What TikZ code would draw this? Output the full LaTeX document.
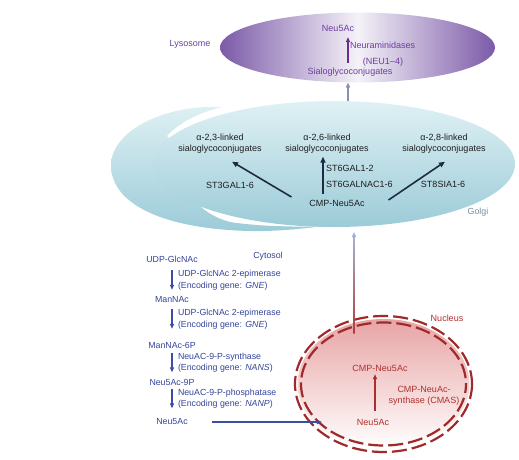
\documentclass[tikz,border=0pt]{standalone}
\usepackage{fontspec}
\setmainfont{Liberation Sans}
\usetikzlibrary{shapes.geometric,arrows.meta,calc}
\definecolor{cytblue}{HTML}{33449A}
\definecolor{cytarrowc}{HTML}{3A4EA6}
\definecolor{golgitext}{HTML}{1E1E1E}
\definecolor{golarrowc}{HTML}{1F2A44}
\definecolor{golgilab}{HTML}{6F8FA0}
\definecolor{lysotext}{HTML}{6B3FA0}
\definecolor{lysarrowc}{HTML}{6A2C91}
\definecolor{nuctext}{HTML}{B0302E}
\definecolor{nucarrowc}{HTML}{A83030}
\definecolor{ringc}{HTML}{9E2A2B}
\definecolor{lysedge}{HTML}{7B5AA8}
\definecolor{lysmid}{HTML}{F5F2F8}
\definecolor{goltop}{HTML}{DFF1F4}
\definecolor{golbot}{HTML}{9CCBD8}
\definecolor{nucpink}{HTML}{E8A4A4}
\definecolor{linetop}{HTML}{A3B2CC}
\definecolor{linebot}{HTML}{B03A3A}
\definecolor{grayarrowc}{HTML}{8A90B2}
\tikzset{
  txt/.style={inner sep=0pt, outer sep=0pt, font=\fontsize{8.8}{11}\selectfont},
  cyt/.style={txt, text=cytblue},
  cytenz/.style={cyt, anchor=west, align=left, font=\fontsize{8.8}{11.5}\selectfont},
  gol/.style={txt, text=golgitext, font=\fontsize{9}{11}\selectfont},
  gollink/.style={gol, align=center},
  lys/.style={txt, text=lysotext, font=\fontsize{9}{11}\selectfont},
  nuc/.style={txt, text=nuctext, font=\fontsize{9}{11}\selectfont},
  cytarrow/.style={draw=cytarrowc, line width=1.3pt, -{Triangle[length=5pt,width=4pt]}},
  golarrow/.style={draw=golarrowc, line width=1.6pt, -{Triangle[length=6pt,width=5pt]}},
  lysarrow/.style={draw=lysarrowc, line width=1.5pt, -{Triangle[length=5pt,width=4pt]}},
  nucarrow/.style={draw=nucarrowc, line width=1.2pt, -{Triangle[length=5pt,width=4pt]}},
  ring/.style={draw=ringc, line width=2.2pt, dash pattern=on 15pt off 5pt},
  blob/.style={ellipse, inner sep=0pt, outer sep=0pt},
}
\begin{document}
\begin{tikzpicture}[x=1pt,y=-1pt]
\useasboundingbox (0,0) rectangle (519,460);
% ---------- Golgi ----------
\shade[top color=goltop, bottom color=golbot]
  (222,107) .. controls (170,104) and (112,128) .. (111,165)
  .. controls (111,205) and (165,229) .. (250,231)
  .. controls (275,231.5) and (300,229) .. (320,226.5)
  .. controls (290,227) and (255,226) .. (230,222)
  .. controls (215,218) and (205,211) .. (199,205)
  .. controls (185,195) and (178,180) .. (178,165)
  .. controls (178,152) and (173,143) .. (167,136)
  .. controls (177,125) and (194,114) .. (222,107) -- cycle;
\node[blob, minimum width=362pt, minimum height=126pt, top color=goltop, bottom color=golbot] (golgi) at (334,164) {};
% ---------- Lysosome ----------
\node[blob, minimum width=275pt, minimum height=70pt, left color=lysedge, right color=lysedge, middle color=lysmid] (lyso) at (357.5,47.5) {};
% ---------- Nucleus ----------
\node[blob, minimum width=172pt, minimum height=130pt, top color=nucpink, bottom color=white] (nuc) at (383.5,384) {};
\draw[ring] (nuc.center) ellipse [x radius=88.5, y radius=68];
\draw[ring, dash phase=6pt] (nuc.center) ellipse [x radius=82.5, y radius=61.5];

% ---------- Lysosome texts ----------
\node[lys] (lysolab) at (190,44) {Lysosome};
\node[lys] (neul) at (338,28) {Neu5Ac};
\node[lys, anchor=west] (neuram) at (350,45) {Neuraminidases};
\node[lys] (neunum) at (383,62) {(NEU1–4)};
\node[lys] (sialol) at (350,72) {Sialoglycoconjugates};
\draw[lysarrow, shorten <=5pt, shorten >=6pt] ([xshift=-2pt]sialol.north) -- ([xshift=-2pt]sialol.north |- neul.south);
\draw[draw=grayarrowc, line width=1.3pt, -{Triangle[length=5pt,width=4pt]}] ([xshift=14pt]golgi.north) -- ([xshift=14pt]golgi.north |- lyso.south);

% ---------- Golgi texts ----------
\node[gollink] (g23) at (220,144) {α-2,3-linked\\sialoglycoconjugates};
\node[gollink] (g26) at (327,144) {α-2,6-linked\\sialoglycoconjugates};
\node[gollink] (g28) at (444,144) {α-2,8-linked\\sialoglycoconjugates};
\node[gol] (cmpg) at (337,203) {CMP-Neu5Ac};
\node[gol] (st3) at (230,185) {ST3GAL1-6};
\node[gol, anchor=west] (st6a) at (326,168) {ST6GAL1-2};
\node[gol, anchor=west] (st6b) at (326,184) {ST6GALNAC1-6};
\node[gol] (st8) at (443,184) {ST8SIA1-6};
\node[txt, text=golgilab] (golgilabel) at (478,212) {Golgi};
\draw[golarrow] ($(cmpg.west)+(-18,-6)$) -- ($(g23.south)+(12,8)$);
\draw[golarrow] ($(cmpg.north)+(-14,-6)$) -- ($(g26.south)+(-4,3)$);
\draw[golarrow] ($(cmpg.east)+(24,-3)$) -- ($(g28.south)+(1,8)$);

% ---------- Cytosol ----------
\node[cyt] (cytlab) at (268,256) {Cytosol};
\node[cyt] (udp) at (172,259) {UDP-GlcNAc};
\node[cyt] (mannac) at (172,300) {ManNAc};
\node[cyt] (mannacp) at (172,345) {ManNAc-6P};
\node[cyt] (neu9p) at (172,382) {Neu5Ac-9P};
\node[cyt] (neuc) at (172,422) {Neu5Ac};
\node[cytenz] (e1) at (178,280) {UDP-GlcNAc 2-epimerase\\(Encoding gene: \textit{GNE})};
\node[cytenz] (e2) at (178,319) {UDP-GlcNAc 2-epimerase\\(Encoding gene: \textit{GNE})};
\node[cytenz] (e3) at (178,362.5) {NeuAC-9-P-synthase\\(Encoding gene: \textit{NANS})};
\node[cytenz] (e4) at (178,398.5) {NeuAC-9-P-phosphatase\\(Encoding gene: \textit{NANP})};
\draw[cytarrow] (e1.north -| udp.south) -- (e1.south -| udp.south);
\draw[cytarrow] (e2.north -| mannac.south) -- (e2.south -| mannac.south);
\draw[cytarrow] (e3.north -| mannacp.south) -- (e3.south -| mannacp.south);
\draw[cytarrow] (e4.north -| neu9p.south) -- (e4.south -| neu9p.south);

% ---------- Nucleus texts ----------
\node[nuc] (nuclab) at (447,318) {Nucleus};
\node[nuc] (cmpn) at (380,368) {CMP-Neu5Ac};
\node[nuc] (neun) at (373,422) {Neu5Ac};
\node[nuc, align=center] (cmas) at (424,395.5) {CMP-NeuAc-\\synthase (CMAS)};
\draw[nucarrow, shorten <=8pt, shorten >=3pt] ([xshift=2pt]neun.north) -- ([xshift=2pt]neun.north |- cmpn.south);
\draw[cytarrow, line width=1.2pt, shorten <=24pt, shorten >=35pt] (neuc.east) -- (neun.west);

% ---------- Nucleus to Golgi ----------
\coordinate (redstart) at ($(nuc.north)+(-29.5,14)$);
\coordinate (redend) at ($(golgi.south)+(20,5)$);
\shade[top color=linetop, bottom color=linebot] ($(redstart)+(-0.7,0)$) rectangle ($(redend)+(0.7,6)$);
\draw[draw=linetop, line width=1.3pt, -{Triangle[length=5pt,width=4pt]}] ($(redend)+(0,7)$) -- (redend);
\end{tikzpicture}
\end{document}
